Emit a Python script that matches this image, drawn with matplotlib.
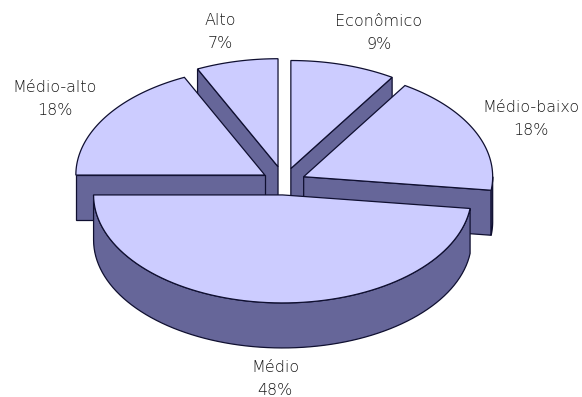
import matplotlib
matplotlib.use('Agg')
import matplotlib.pyplot as plt
import numpy as np
from matplotlib.patches import Polygon

categorias = ['Econômico', 'Médio-baixo', 'Médio', 'Médio-alto', 'Alto']
valores = [9, 18, 48, 18, 7]

# pie geometry, in figure pixels
cx, cy = 284, 182
a, b = 189, 108
prof = 45
explode = [0.13, 0.115, 0.12, 0.12, 0.145]
label_x = [379, 531, 275, 55, 220]
label_y = [33, 119, 379, 99, 32]

cor_topo = '#ccccff'
cor_lado = '#666699'
cor_linha = '#0f0f30'
lw = 0.9


def ponto(x0, y0, ang):
    # ang in degrees, clockwise from 12 o'clock
    r = np.radians(ang)
    return x0 + a * np.sin(r), y0 - b * np.cos(r)


def arco(x0, y0, ini, fim):
    angs = np.linspace(ini, fim, 80)
    xs, ys = ponto(x0, y0, angs)
    return list(zip(xs, ys))


def desenha_fatia(ax, i, ini, fim):
    meio = (ini + fim) / 2
    dx = explode[i] * a * np.sin(np.radians(meio))
    dy = -explode[i] * b * np.cos(np.radians(meio))
    x0, y0 = cx + dx, cy + dy

    # cut faces, only those turned towards the viewer
    for ang, normal in ((ini, ini - 90), (fim, fim + 90)):
        if np.cos(np.radians(normal)) < -1e-6:
            px, py = ponto(x0, y0, ang)
            face = [(x0, y0), (px, py), (px, py + prof), (x0, y0 + prof)]
            ax.add_patch(Polygon(face, closed=True, fc=cor_lado, ec=cor_linha, lw=lw))

    # outer rim, front half of the ellipse only
    r_ini, r_fim = max(ini, 90), min(fim, 270)
    if r_fim > r_ini:
        sup = arco(x0, y0, r_ini, r_fim)
        inf = [(x, y + prof) for x, y in sup][::-1]
        ax.add_patch(Polygon(sup + inf, closed=True, fc=cor_lado, ec=cor_linha, lw=lw))

    topo = [(x0, y0)] + arco(x0, y0, ini, fim)
    ax.add_patch(Polygon(topo, closed=True, fc=cor_topo, ec=cor_linha, lw=lw))


fig = plt.figure(figsize=(5.82, 3.97), dpi=100)
ax = fig.add_axes([0, 0, 1, 1])
ax.set_xlim(0, 582)
ax.set_ylim(397, 0)
ax.set_axis_off()

limites = np.cumsum([0] + valores) / sum(valores) * 360

# back slices first so the front ones cover them
for i in [4, 0, 3, 1, 2]:
    desenha_fatia(ax, i, limites[i], limites[i + 1])

for i, nome in enumerate(categorias):
    ax.text(label_x[i], label_y[i], '%s\n%d%%' % (nome, valores[i]), ha='center', va='center',
            fontsize=11.5, color='#1a1a1a', linespacing=1.65, fontweight='ultralight')

plt.savefig('out.png', dpi=100)
